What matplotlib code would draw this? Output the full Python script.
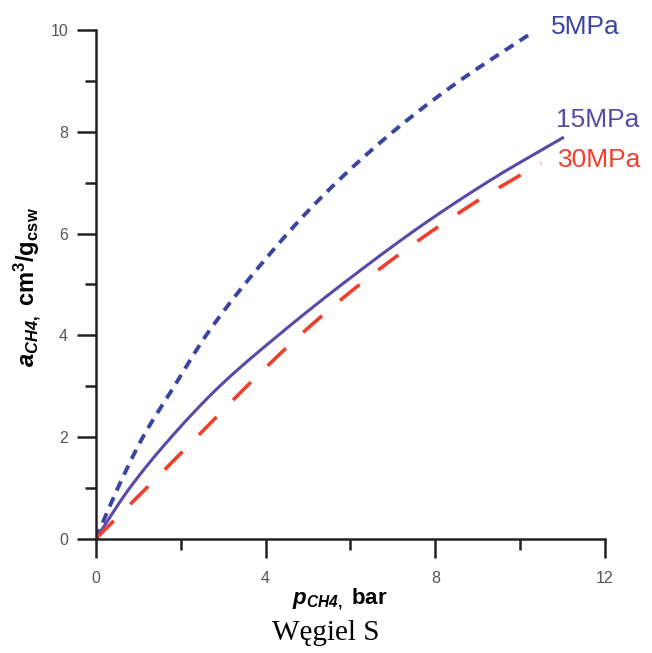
import matplotlib
matplotlib.use("Agg")
import matplotlib.pyplot as plt
import numpy as np

plt.rcParams['font.family'] = ['Liberation Sans', 'DejaVu Sans']
plt.rcParams['mathtext.fontset'] = 'custom'
plt.rcParams['mathtext.rm'] = 'Liberation Sans:bold'
plt.rcParams['mathtext.it'] = 'Liberation Sans:italic:bold'
plt.rcParams['mathtext.bf'] = 'Liberation Sans:bold'
plt.rcParams['mathtext.bfit'] = 'Liberation Sans:italic:bold'

# sorption isotherms, p in bar, a in cm3/g
p_5 = [0.0, 0.52, 1.11, 1.82, 2.6, 4.0, 5.3, 7.0, 8.5, 10.3]
a_5 = [0.0, 1.0, 2.0, 2.96, 4.0, 5.5, 6.7, 8.0, 8.96, 9.96]

p_15 = [0.0, 0.8, 1.79, 2.92, 4.3, 5.8, 7.7, 9.4, 11.0]
a_15 = [0.0, 1.0, 2.01, 3.0, 4.0, 5.0, 6.17, 7.1, 7.88]

p_30 = [0.0, 1.2, 2.38, 3.56, 4.81, 6.1, 7.48, 8.99, 10.5]
a_30 = [0.0, 1.0, 2.0, 3.0, 4.0, 4.92, 5.79, 6.64, 7.39]

labels = ['5MPa', '15MPa', '30MPa']
label_pos = [(10.72, 10.06), (10.85, 8.23), (10.9, 7.45)]
colors = ['#3b44a0', '#5b48a8', '#f0402c']

fig = plt.figure(figsize=(6.52, 6.53), dpi=100)
ax = fig.add_axes([0.147, 0.175, 0.781, 0.779])

def smooth(x, y):
    # monotone cubic through the points
    x = np.asarray(x); y = np.asarray(y)
    xs = np.linspace(x[0], x[-1], 300)
    h = np.diff(x); d = np.diff(y) / h
    m = np.zeros_like(y)
    m[0] = d[0]; m[-1] = d[-1]
    for i in range(1, len(x) - 1):
        if d[i - 1] * d[i] > 0:
            w1 = 2 * h[i] + h[i - 1]; w2 = h[i] + 2 * h[i - 1]
            m[i] = (w1 + w2) / (w1 / d[i - 1] + w2 / d[i])
    idx = np.clip(np.searchsorted(x, xs) - 1, 0, len(x) - 2)
    t = (xs - x[idx]) / h[idx]
    h00 = 2*t**3 - 3*t**2 + 1; h10 = t**3 - 2*t**2 + t
    h01 = -2*t**3 + 3*t**2; h11 = t**3 - t**2
    ys = h00*y[idx] + h10*h[idx]*m[idx] + h01*y[idx+1] + h11*h[idx]*m[idx+1]
    return xs, ys

x5, y5 = smooth(p_5, a_5)
x15, y15 = smooth(p_15, a_15)
x30, y30 = smooth(p_30, a_30)

ax.plot(x5, y5, color=colors[0], lw=2.8, dashes=(2.6, 1.9))
ax.plot(x15, y15, color=colors[1], lw=2.2)
ax.plot(x30, y30, color=colors[2], lw=2.6, dashes=(7.0, 6.5))

for lab, (lx, ly), c in zip(labels, label_pos, colors):
    ax.text(lx, ly, lab, color=c, fontsize=19, va='center', ha='left',
            clip_on=False)

ax.set_xlim(0, 12)
ax.set_ylim(0, 10)
ax.spines['top'].set_visible(False)
ax.spines['right'].set_visible(False)
for s in ['left', 'bottom']:
    ax.spines[s].set_linewidth(1.8)
    ax.spines[s].set_color('#222222')

ax.set_xticks([0, 4, 8, 12])
ax.set_xticks([2, 6, 10], minor=True)
ax.set_yticks([0, 2, 4, 6, 8, 10])
ax.set_yticks([1, 3, 5, 7, 9], minor=True)
ax.tick_params(which='major', length=14, width=1.8, color='#222222',
               labelsize=11.5, labelcolor='#555555')
ax.tick_params(which='minor', length=8, width=1.8, color='#222222')
ax.tick_params(axis='x', which='major', pad=9)
ax.tick_params(axis='y', which='major', pad=6)

ax.set_ylabel(r'$\mathbfit{a}_{\mathbfit{CH4},}$ $\mathbf{cm^3/g_{csw}}$',
              fontsize=17, va='center')
ax.yaxis.set_label_coords(-0.134, 0.495)
ax.set_xlabel(r'$\mathbfit{p}_{\mathbfit{CH4},}$ $\mathbf{bar}$',
              fontsize=16, va='center')
ax.xaxis.set_label_coords(0.48, -0.118)

fig.text(0.5, 0.03, 'Węgiel S', ha='center', va='center',
         family='Liberation Serif', fontsize=21)

fig.savefig('out.png', dpi=100, facecolor='white')
